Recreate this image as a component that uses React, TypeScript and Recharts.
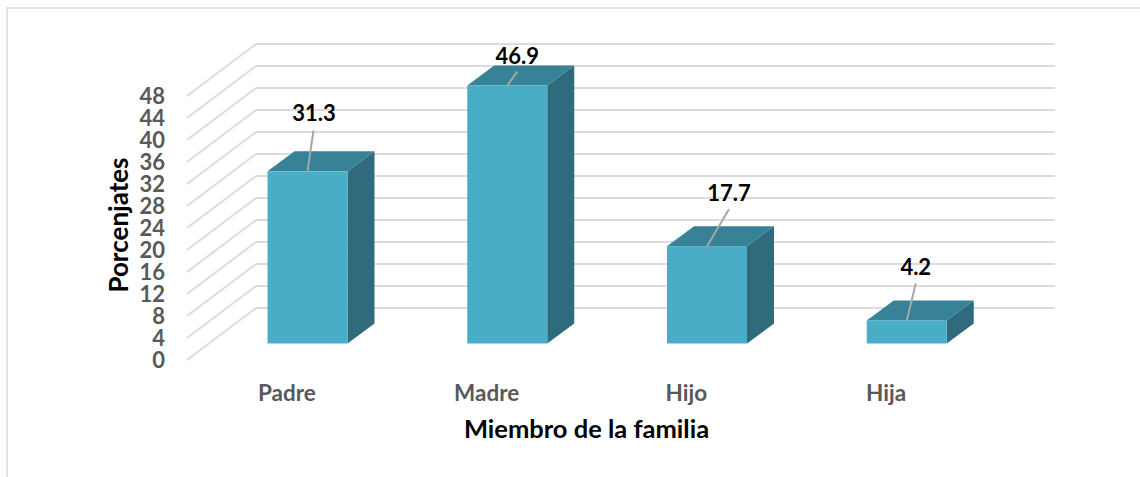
import { BarChart, Bar, CartesianGrid, LabelList, XAxis, YAxis } from 'recharts';

const members = ['Padre', 'Madre', 'Hijo', 'Hija'];
const percentages = [31.3, 46.9, 17.7, 4.2];
const yTicks = [0, 4, 8, 12, 16, 20, 24, 28, 32, 36, 40, 44, 48];

const data = members.map((member, i) => ({ member, value: percentages[i] }));

const FONT = 'Lato, sans-serif';
const GRID = '#dcdcdc';

// the floor of the fake 3D box, front plane to back wall
const WALL_DX = 69;
const WALL_DY = -52;
// bars stand part of the way into the box
const BAR_DX = 20.5;
const BAR_DY = -16.5;
const BAR_DEPTH_X = 27;
const BAR_DEPTH_Y = -20;

// leader line end and label position, relative to the front top edge centre
const leaders: Record<string, { lx: number; ly: number; tx: number; ty: number }> = {
    Padre: { lx: 6, ly: -41, tx: 6.5, ty: -59 },
    Madre: { lx: 10, ly: -14, tx: 10, ty: -30 },
    Hijo: { lx: 22, ly: -37, tx: 22, ty: -54 },
    Hija: { lx: 9, ly: -37, tx: 9, ty: -54 },
};

const wallLine = (props: any) => {
    const { x1, x2, y1, key } = props;
    const backY = y1 + WALL_DY;
    return (
        <g key={key}>
            <line x1={x1} y1={y1} x2={x1 + WALL_DX} y2={backY} stroke={GRID} strokeWidth={2} />
            <line x1={x1 + WALL_DX} y1={backY} x2={x2 + WALL_DX} y2={backY} stroke={GRID} strokeWidth={2} />
        </g>
    );
};

const Box3D = ({ x, y, width, height }: any) => {
    const left = x + BAR_DX;
    const right = left + width;
    const top = y + BAR_DY;
    const bottom = top + height;
    return (
        <g>
            <polygon
                points={`${left},${top} ${right},${top} ${right + BAR_DEPTH_X},${top + BAR_DEPTH_Y} ${left + BAR_DEPTH_X},${top + BAR_DEPTH_Y}`}
                fill="#388298"
            />
            <polygon
                points={`${right},${top} ${right + BAR_DEPTH_X},${top + BAR_DEPTH_Y} ${right + BAR_DEPTH_X},${bottom + BAR_DEPTH_Y} ${right},${bottom}`}
                fill="#306b7d"
            />
            <rect x={left} y={top} width={width} height={height} fill="#4aadc8" />
        </g>
    );
};

const LeaderLabel = ({ x, y, width, value, index }: any) => {
    const cx = x + BAR_DX + width / 2;
    const top = y + BAR_DY;
    const p = leaders[members[index]];
    return (
        <g>
            <line x1={cx} y1={top} x2={cx + p.lx} y2={top + p.ly} stroke="#a6a6a6" strokeWidth={2} />
            <text
                x={cx + p.tx}
                y={top + p.ty}
                textAnchor="middle"
                dominantBaseline="central"
                fontFamily={FONT}
                fontWeight={700}
                fontSize={22}
                fill="#000"
            >
                {value}
            </text>
        </g>
    );
};

export default function App() {
    return (
        <div style={{ position: 'absolute', left: 0, top: 0, width: 1140, height: 477, background: '#fff' }}>
            <div
                style={{
                    position: 'absolute',
                    left: 6,
                    top: 7,
                    width: 1134,
                    height: 470,
                    boxSizing: 'border-box',
                    borderTop: '2px solid #e3e3e3',
                    borderLeft: '2px solid #e3e3e3',
                }}
            />
            <BarChart
                width={1140}
                height={477}
                data={data}
                barSize={80}
                margin={{ top: 96, right: 154, bottom: 0, left: 127 }}
                style={{ position: 'absolute', left: 0, top: 0 }}
            >
                <CartesianGrid vertical={false} horizontal={wallLine} />
                <XAxis
                    dataKey="member"
                    height={117}
                    axisLine={false}
                    tickLine={false}
                    tickMargin={19}
                    tick={{ fontFamily: FONT, fontWeight: 700, fontSize: 22.5, fill: '#595959' }}
                    label={{
                        value: 'Miembro de la familia',
                        position: 'insideTop',
                        dy: 55,
                        dx: 0,
                        fontFamily: FONT,
                        fontWeight: 700,
                        fontSize: 25.5,
                        fill: '#000',
                    }}
                />
                <YAxis
                    width={60}
                    domain={[0, 48]}
                    ticks={yTicks}
                    interval={0}
                    axisLine={false}
                    tickLine={false}
                    tickMargin={16}
                    tick={{ fontFamily: FONT, fontWeight: 700, fontSize: 22, fill: '#595959' }}
                    label={{
                        value: 'Porcenjates',
                        angle: -90,
                        position: 'insideLeft',
                        dx: -13,
                        dy: -3,
                        fontFamily: FONT,
                        fontWeight: 700,
                        fontSize: 26,
                        fill: '#000',
                        style: { textAnchor: 'middle' },
                    }}
                />
                <Bar dataKey="value" shape={<Box3D />} isAnimationActive={false}>
                    <LabelList dataKey="value" content={<LeaderLabel />} />
                </Bar>
            </BarChart>
        </div>
    );
}
